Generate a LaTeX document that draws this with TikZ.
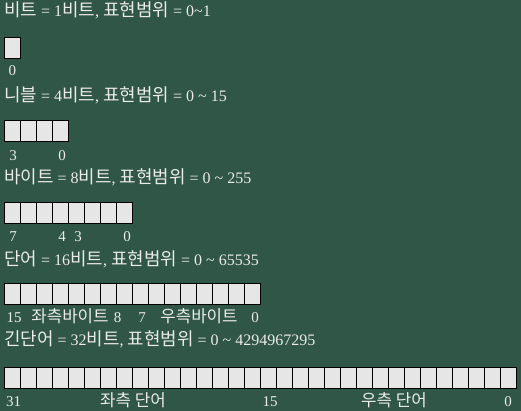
\documentclass[tikz,border=0pt]{standalone}
\usepackage{fontspec}
\setmainfont{Liberation Serif}
\newfontfamily\krfont[Scale=1.12]{Noto Sans CJK KR}
\definecolor{boardgreen}{RGB}{47,86,70}
\definecolor{chalk}{RGB}{235,235,235}
\definecolor{cellgray}{RGB}{230,230,230}

\begin{document}
\begin{tikzpicture}[x=1pt, y=-1pt,
    bitcell/.style={draw=black, line width=1pt, fill=cellgray, rectangle, minimum width=16pt, minimum height=21pt, inner sep=0pt},
    rowtitle/.style={anchor=base west, inner sep=0pt, text=chalk, font=\fontsize{16}{19}\selectfont},
    bitlabel/.style={anchor=base, inner sep=0pt, text=chalk, font=\fontsize{15}{18}\selectfont}]
    \fill[boardgreen] (0,0) rectangle (521,411);
    \useasboundingbox (0,0) rectangle (521,411);

    % Bit
    \node[rowtitle] (tbit) at (4,16.5) {{\krfont 비트} = 1{\krfont 비트}, {\krfont 표현범위} = 0\textasciitilde1};
    \node[bitcell] (bit0) at (12,48.5) {};
    \node[bitlabel] at (12.5,76) {0};

    % Nibble
    \node[rowtitle] (tnib) at (4,101.5) {{\krfont 니블} = 4{\krfont 비트}, {\krfont 표현범위} = 0 \textasciitilde{} 15};
    \foreach \b in {0,...,3}
        \node[bitcell] (nib\b) at ({12+16*(3-\b)},131.5) {};
    \node[bitlabel] at (13,161) {3};
    \node[bitlabel] at (62,161) {0};

    % Byte
    \node[rowtitle] (tbyte) at (4,184) {{\krfont 바이트} = 8{\krfont 비트}, {\krfont 표현범위} = 0 \textasciitilde{} 255};
    \foreach \b in {0,...,7}
        \node[bitcell] (byte\b) at ({12+16*(7-\b)},213.5) {};
    \node[bitlabel] at (13,242) {7};
    \node[bitlabel] at (62,242) {4};
    \node[bitlabel] at (78,242) {3};
    \node[bitlabel] at (127,242) {0};

    % Word
    \node[rowtitle] (tword) at (4,265.5) {{\krfont 단어} = 16{\krfont 비트}, {\krfont 표현범위} = 0 \textasciitilde{} 65535};
    \foreach \b in {0,...,15}
        \node[bitcell] (word\b) at ({12+16*(15-\b)},293.5) {};
    \node[bitlabel] at (14,322) {15};
    \node[bitlabel] at (70,322) {\krfont 좌측바이트};
    \node[bitlabel] at (117.5,322) {8};
    \node[bitlabel] at (142,322) {7};
    \node[bitlabel] at (199,322) {\krfont 우측바이트};
    \node[bitlabel] at (255,322) {0};

    % Double word
    \node[rowtitle] (tdword) at (4,345.5) {{\krfont 긴단어} = 32{\krfont 비트}, {\krfont 표현범위} = 0 \textasciitilde{} 4294967295};
    \foreach \b in {0,...,31}
        \node[bitcell] (dword\b) at ({12+16*(31-\b)},377.5) {};
    \node[bitlabel] at (13.5,406) {31};
    \node[bitlabel] at (133,406) {\krfont 좌측 단어};
    \node[bitlabel] at (270,406) {15};
    \node[bitlabel] at (394,406) {\krfont 우측 단어};
    \node[bitlabel] at (508,406) {0};
\end{tikzpicture}
\end{document}
